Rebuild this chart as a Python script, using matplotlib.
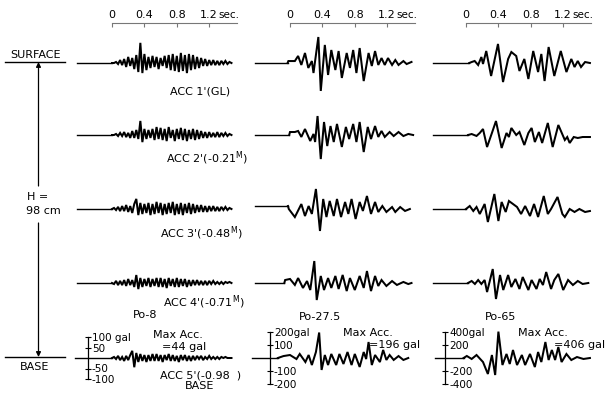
import numpy as np
import matplotlib
matplotlib.use("Agg")
import matplotlib.pyplot as plt
from matplotlib.lines import Line2D
from matplotlib.patches import FancyArrowPatch
from matplotlib.transforms import blended_transform_factory

plt.rcParams['font.family'] = ['DejaVu Sans']
plt.rcParams['mathtext.default'] = 'regular'

# ---------------- data (accelerations in gal) ----------------
# column 1 (Po-8): regularly sampled, dt = 0.025 s from t = 0
C1_DT = 0.025
C1R1 = [0, 0, 5, -5, 14, -10, 19, -19, 29, -14, 24, -29, 38, -43, 96, -48, 43, -34, 29, -24,
        34, -19, 29, -29, 24, -14, 34, -24, 38, -34, 43, -38, 34, -43, 48, -38, 38, -48, 43, -34,
        38, -29, 29, -24, 24, -14, 19, -14, 14, -10, 14, -10, 10, -10, 10, -5, 10, -5, 5, 0]
C1R2 = [0, 0, 5, -5, 10, -5, 14, -10, 10, -14, 19, -14, 24, -19, 67, -34, 29, -19, 24, -14,
        29, -24, 38, -19, 34, -24, 29, -29, 38, -14, 24, -29, 29, -19, 34, -24, 29, -29, 24, -19,
        29, -24, 24, -19, 19, -14, 14, -14, 14, -10, 10, -10, 14, -10, 10, -5, 10, -5, 5, 0]
C1R3 = [0, 5, -5, 10, -10, 14, -10, 19, -14, 14, -19, 24, 48, -29, 29, -24, 24, -19, 29, -29,
        24, -24, 34, -19, 29, -29, 24, -24, 29, -19, 34, -29, 24, -24, 29, -29, 24, -19, 29, -24,
        24, -19, 19, -14, 19, -14, 14, -14, 14, -10, 14, -10, 10, -10, 10, -5, 10, -5, 5, 0]
C1R4 = [0, -5, 10, -10, 10, -10, 14, -14, 19, -10, 14, -19, 38, -29, 24, -19, 19, -14, 24, -19,
        19, -14, 24, -19, 24, -19, 19, -24, 24, -14, 19, -19, 24, -19, 19, -14, 19, -19, 14, -14,
        14, -10, 14, -10, 10, -10, 10, -10, 10, -5, 10, -5, 5, -5, 5, -5, 5, 0, 5, 0]
C1R5 = [0, 5, -5, 10, -10, 5, -14, 10, -10, 14, 34, -44, 24, -19, 19, -14, 14, -19, 14, -14,
        19, -14, 19, -14, 14, -19, 14, -10, 19, -14, 14, -14, 10, -19, 14, -10, 14, -14, 10, -14,
        10, -10, 10, -5, 10, -10, 5, -5, 10, -5, 5, -5, 5, -5, 5, 0, 5, 0, 0, 0]

# column 2 (Po-27.5): turning points (time s, gal)
C2R1_T = [-0.03, -0.02, 0.06, 0.10, 0.14, 0.185, 0.226, 0.27, 0.29, 0.35, 0.38, 0.43, 0.47, 0.51,
          0.56, 0.60, 0.64, 0.70, 0.74, 0.78, 0.82, 0.86, 0.91, 0.97, 1.01, 1.05, 1.09, 1.13,
          1.17, 1.21, 1.26, 1.30, 1.34, 1.40, 1.44, 1.50]
C2R1_A = [0, 15, 15, 54, -15, 77, -38, 15, -77, 200, -215, 139, -92, 100, -54, 92, -115, 77,
          -38, 100, -77, 115, -139, 77, -23, 92, -15, 38, -15, 38, -15, 23, -15, 15, -8, 8]
C2R2_T = [-0.01, 0.0, 0.06, 0.10, 0.14, 0.185, 0.25, 0.29, 0.31, 0.34, 0.38, 0.42, 0.46, 0.50,
          0.54, 0.58, 0.64, 0.69, 0.73, 0.78, 0.82, 0.86, 0.91, 0.96, 1.00, 1.05, 1.09, 1.13,
          1.17, 1.23, 1.28, 1.34, 1.40, 1.46, 1.52]
C2R2_A = [0, 23, 23, 31, -15, 46, -46, 8, -54, 146, -185, 100, -85, 69, -54, 85, -92, 62, -31,
          85, -54, 100, -131, 62, -31, 69, -15, 31, -15, 23, -8, 23, -8, 8, 0]
C2R3_T = [-0.025, -0.015, 0.06, 0.14, 0.185, 0.23, 0.27, 0.32, 0.37, 0.41, 0.45, 0.49, 0.54,
          0.58, 0.63, 0.68, 0.72, 0.76, 0.81, 0.86, 0.90, 0.95, 1.00, 1.05, 1.09, 1.14, 1.19,
          1.26, 1.30, 1.36, 1.42, 1.48]
C2R3_A = [23, 0, -62, 38, -54, 23, -38, 154, -169, 77, -62, 62, -54, 77, -62, 54, -38, 77, -77,
          54, -15, 100, -38, 54, -23, 23, -23, 15, -23, 15, -15, 0]
C2R4_T = [-0.07, -0.06, 0.0, 0.06, 0.10, 0.16, 0.21, 0.25, 0.30, 0.33, 0.38, 0.42, 0.47, 0.51,
          0.56, 0.60, 0.65, 0.70, 0.74, 0.80, 0.86, 0.91, 0.95, 1.00, 1.05, 1.09, 1.13, 1.19,
          1.26, 1.32, 1.40, 1.46, 1.50]
C2R4_A = [0, 23, 31, -15, 38, -38, 15, -54, 169, -131, 54, -54, 38, -38, 54, -46, 62, -62, 38,
          -54, 54, -38, 92, -62, 54, -23, 23, -23, 15, -15, 8, -8, 0]
C2R5_T = [-0.15, -0.08, 0.0, 0.08, 0.12, 0.19, 0.23, 0.27, 0.32, 0.36, 0.39, 0.43, 0.47, 0.51,
          0.57, 0.61, 0.66, 0.71, 0.76, 0.80, 0.86, 0.91, 0.94, 0.97, 1.01, 1.05, 1.11, 1.15,
          1.19, 1.23, 1.28, 1.34, 1.40, 1.46]
C2R5_A = [0, 15, 23, -8, 31, -31, 23, -54, 46, 196, -92, 23, -54, 31, -54, 31, -46, 46, -54, 31,
          -69, 46, -8, 123, -54, 23, -31, 62, -15, 23, -15, 15, -15, 0]

# column 3 (Po-65)
C3R1_T = [0.04, 0.07, 0.107, 0.15, 0.19, 0.21, 0.25, 0.31, 0.395, 0.457, 0.52, 0.56, 0.62, 0.66,
          0.72, 0.77, 0.83, 0.89, 0.93, 0.97, 1.02, 1.09, 1.17, 1.24, 1.30, 1.34, 1.38, 1.42,
          1.47, 1.53]
C3R1_A = [0, 15, 31, -31, 92, -15, 185, -200, 293, -293, 62, 169, 108, -123, 62, -246, 185,
          -139, 139, -277, 246, -200, 185, -139, 62, -62, 31, -62, 15, 0]
C3R2_T = [0.025, 0.07, 0.13, 0.17, 0.21, 0.26, 0.32, 0.37, 0.44, 0.50, 0.53, 0.56, 0.62, 0.66,
          0.72, 0.77, 0.81, 0.85, 0.90, 0.94, 1.01, 1.07, 1.14, 1.22, 1.25, 1.28, 1.33, 1.38,
          1.44, 1.53]
C3R2_A = [0, 15, -15, 31, 92, -185, 31, 215, -200, 31, -31, 108, 0, 46, -154, 31, 108, -108, 46,
          -123, 185, -185, 154, -77, -31, -123, -31, -46, -31, -31]
C3R3_T = [0.0, 0.046, 0.09, 0.13, 0.17, 0.23, 0.27, 0.35, 0.40, 0.44, 0.49, 0.53, 0.58, 0.63,
          0.68, 0.73, 0.79, 0.84, 0.89, 0.96, 1.01, 1.05, 1.13, 1.19, 1.22, 1.28, 1.34, 1.40,
          1.47, 1.53]
C3R3_A = [0, 46, -31, 31, -77, 77, -200, 231, -185, 108, -46, 123, 77, 31, -77, 46, -108, 77,
          -123, 200, -77, 0, 185, -77, -123, 0, -46, 0, -46, -31]
C3R4_T = [0.025, 0.07, 0.11, 0.15, 0.19, 0.23, 0.26, 0.33, 0.37, 0.42, 0.46, 0.52, 0.56, 0.61,
          0.66, 0.70, 0.77, 0.81, 0.87, 0.91, 0.95, 0.99, 1.05, 1.09, 1.14, 1.20, 1.26, 1.32,
          1.38, 1.44, 1.51]
C3R4_A = [0, 31, -15, 46, -15, 46, -139, 215, -246, 123, -108, 123, -62, 62, -92, 92, -108, 46,
          -92, 62, -31, 169, -92, 46, 139, -108, 46, -31, 31, -15, 0]
C3R5_T = [-0.03, 0.01, 0.07, 0.13, 0.21, 0.27, 0.32, 0.36, 0.40, 0.45, 0.50, 0.54, 0.58, 0.63,
          0.69, 0.73, 0.79, 0.85, 0.89, 0.93, 0.98, 1.02, 1.06, 1.10, 1.14, 1.18, 1.24, 1.30,
          1.37, 1.45, 1.53]
C3R5_A = [0, 31, -15, 46, -62, -246, 46, -262, 406, -108, 62, -92, 123, -108, 46, -108, 62,
          -139, 92, -62, 246, -31, 123, -31, 169, -62, 62, -31, 15, -15, 0]

TRACE_START = [[-0.43, -0.43, -0.41]] * 4 + [[-0.46, -0.47, -0.38]]   # record start (s)

CONDITIONS = ["Po-8", "Po-27.5", "Po-65"]
MAX_ACC = [44, 196, 406]
GAL_TICKS = [[100, 50, -50, -100], [200, 100, -100, -200], [400, 200, -200, -400]]
GAL_TICK_LABELS = [["100 gal", "50", "-50", "-100"],
                   ["200gal", "100", "-100", "-200"],
                   ["400gal", "200", "-200", "-400"]]
TIME_TICKS = [0, 0.4, 0.8, 1.2]
TIME_TICK_LABELS = ["0", "0.4", "0.8", "1.2"]
ROW_LABELS = ["ACC 1'(GL)", "ACC 2'(-0.21$^{M}$)", "ACC 3'(-0.48$^{M}$)",
              "ACC 4'(-0.71$^{M}$)", "ACC 5'(-0.98  )"]

# ---------------- layout ----------------
W, H = 608, 398
fig = plt.figure(figsize=(W / 100, H / 100), dpi=100)
fig.patch.set_facecolor('white')

def fx(px):
    return px / W

def fy(py):
    return 1 - py / H

COL_T0_PX = [112, 290, 466]     # pixel of t = 0 per column
PX_PER_S = 81
XLIM = (-0.5, 1.62)
ROW_Y_PX = [63, 135, 209, 283, 358]
AX_H_PX = 60
GAL_PER_PX = [100 / 21, 200 / 26, 400 / 26]
GAL_AXIS_T = [-0.30, -0.25, -0.26]
SCALE_END = 1.54

c1 = [C1R1, C1R2, C1R3, C1R4, C1R5]
c2 = [(C2R1_T, C2R1_A), (C2R2_T, C2R2_A), (C2R3_T, C2R3_A), (C2R4_T, C2R4_A), (C2R5_T, C2R5_A)]
c3 = [(C3R1_T, C3R1_A), (C3R2_T, C3R2_A), (C3R3_T, C3R3_A), (C3R4_T, C3R4_A), (C3R5_T, C3R5_A)]

width_px = (XLIM[1] - XLIM[0]) * PX_PER_S
for c in range(3):
    left_px = COL_T0_PX[c] + XLIM[0] * PX_PER_S
    # time scale on top
    sax = fig.add_axes([fx(left_px), fy(24), fx(width_px), 1 / H])
    sax.set_xlim(XLIM)
    for s in ['left', 'right', 'bottom']:
        sax.spines[s].set_visible(False)
    sax.spines['top'].set_bounds(0, SCALE_END)
    sax.spines['top'].set_color('#777777')
    sax.xaxis.set_ticks_position('top')
    sax.set_xticks(TIME_TICKS)
    sax.set_xticklabels(TIME_TICK_LABELS)
    sax.tick_params(axis='x', direction='in', length=3, pad=2.5, labelsize=8, color='#777777')
    sax.set_yticks([])
    sax.patch.set_visible(False)
    tr = blended_transform_factory(sax.transData, fig.transFigure)
    sax.text(1.31, fy(15), "sec.", transform=tr, fontsize=7.5, ha='left', va='center')

    for r in range(5):
        ax = fig.add_axes([fx(left_px), fy(ROW_Y_PX[r] + AX_H_PX / 2), fx(width_px), AX_H_PX / H])
        g = GAL_PER_PX[c]
        ax.set_xlim(XLIM)
        ax.set_ylim(-AX_H_PX / 2 * g, AX_H_PX / 2 * g)
        if c == 0:
            a = np.array(c1[r], dtype=float)
            t = np.arange(len(a)) * C1_DT
        else:
            t, a = (c2 if c == 1 else c3)[r]
            t = np.array(t, dtype=float)
            a = np.array(a, dtype=float)
        # quiet lead-in of the record, then the motion itself
        ax.plot([TRACE_START[r][c], t[0]], [a[0], a[0]], color='black', lw=1.0)
        ax.plot(t, a, color='black', lw=1.45, solid_joinstyle='miter')
        ax.patch.set_visible(False)
        for s in ['left', 'top', 'bottom']:
            ax.spines[s].set_visible(False)
        ax.set_xticks([])
        if r < 4:
            ax.spines['right'].set_visible(False)
            ax.set_yticks([])
        else:
            sp = ax.spines['right']
            sp.set_position(('data', GAL_AXIS_T[c]))
            sp.set_bounds(GAL_TICKS[c][-1], GAL_TICKS[c][0])
            sp.set_linewidth(0.9)
            ax.yaxis.tick_right()
            ax.set_yticks(GAL_TICKS[c])
            ax.set_yticklabels(GAL_TICK_LABELS[c])
            ax.tick_params(axis='y', direction='inout', length=5, width=0.8, pad=0.5,
                           labelsize=7.5)

# ---------------- annotations ----------------
TXT = dict(fontsize=8, color='black')
for r, lab in enumerate(ROW_LABELS):
    xl = [170, 166, 160, 163, 160][r]
    yl = [92, 158, 233, 302, 375][r]
    fig.text(fx(xl), fy(yl), lab, ha='left', va='center', **TXT)
fig.text(fx(200), fy(386), "BASE", ha='center', va='center', **TXT)

for c in range(3):
    fig.text(fx([145, 320, 501][c]), fy([315, 317, 317][c]), CONDITIONS[c],
             ha='center', va='center', **TXT)
    fig.text(fx([178, 368, 543][c]), fy([335, 333, 333][c]), "Max Acc.",
             ha='center', va='center', **TXT)
    fig.text(fx([184, 395, 605][c]), fy([347, 345, 345][c]), "=%d gal" % MAX_ACC[c],
             ha='center' if c < 2 else 'right', va='center', **TXT)

# left side: SURFACE / BASE, height arrow
fig.text(fx(10), fy(55), "SURFACE", ha='left', va='center', **TXT)
fig.add_artist(Line2D([fx(5), fx(65)], [fy(62), fy(62)], color='black', lw=1.0))
fig.text(fx(20), fy(367), "BASE", ha='left', va='center', **TXT)
fig.add_artist(Line2D([fx(5), fx(65)], [fy(357), fy(357)], color='black', lw=1.0))
fig.add_artist(FancyArrowPatch((fx(38.5), fy(186)), (fx(38.5), fy(62)), arrowstyle='-|>',
                               mutation_scale=7, lw=0.9, color='black',
                               transform=fig.transFigure, shrinkA=0, shrinkB=0))
fig.add_artist(FancyArrowPatch((fx(38.5), fy(223)), (fx(38.5), fy(357)), arrowstyle='-|>',
                               mutation_scale=7, lw=0.9, color='black',
                               transform=fig.transFigure, shrinkA=0, shrinkB=0))
fig.text(fx(27), fy(197), "H =", ha='left', va='center', **TXT)
fig.text(fx(26), fy(211), "98 cm", ha='left', va='center', **TXT)

fig.savefig("out.png", dpi=100)
